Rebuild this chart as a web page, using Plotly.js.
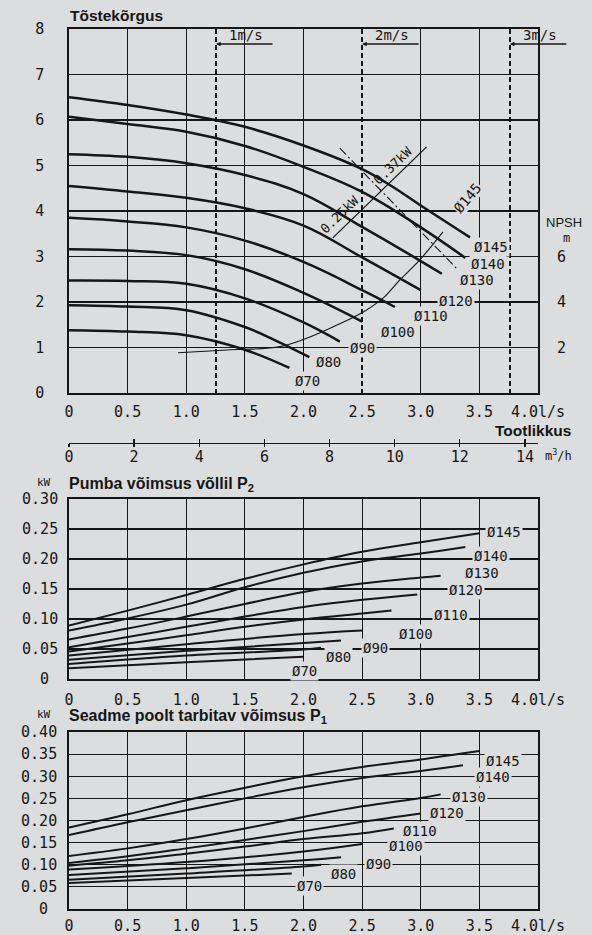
<!DOCTYPE html>
<html><head><meta charset="utf-8">
<script src="https://cdn.plot.ly/plotly-3.0.1.min.js"></script>
<style>html,body{margin:0;padding:0;background:#dcdddf;} #c{width:592px;height:935px;}</style>
</head><body><div id="c"></div>
<script>
// ---------- data ----------
const diameters = ['Ø145','Ø140','Ø130','Ø120','Ø110','Ø100','Ø90','Ø80','Ø70'];
const flowTicks = [0,0.5,1,1.5,2,2.5,3,3.5,4];
const flowTickText = ['0','0.5','1.0','1.5','2.0','2.5','3.0','3.5','4.0l/s'];
const headTicks = [0,1,2,3,4,5,6,7,8];
const npshTicks = [2,4,6];
const m3hTicks = [0,2,4,6,8,10,12,14];
const p2Ticks = [0,0.05,0.10,0.15,0.20,0.25,0.30];
const p2TickText = ['\u00a0\u00a00\u00a0','0.05','0.10','0.15','0.20','0.25','0.30'];
const p1Ticks = [0,0.05,0.10,0.15,0.20,0.25,0.30,0.35,0.40];
const p1TickText = ['\u00a0\u00a00\u00a0','0.05','0.10','0.15','0.20','0.25','0.30','0.35','0.40'];
const velocityQ = [1.254, 2.5, 3.76];
const velocityText = ['1m/s','2m/s','3m/s'];

// head curves H(Q)
const headQ = [
  [0,0.5,1.0,1.5,2.0,2.5,2.75,3.0,3.42],
  [0,0.5,1.0,1.5,2.0,2.5,3.0,3.38],
  [0,0.5,1.0,1.5,2.0,2.5,3.0,3.18],
  [0,0.5,1.0,1.5,2.0,2.5,3.0],
  [0,0.5,1.0,1.5,2.0,2.5,2.78],
  [0,0.5,1.0,1.5,2.0,2.5],
  [0,0.5,1.0,1.5,2.0,2.31],
  [0,0.5,1.0,1.5,1.75,2.05],
  [0,0.5,1.0,1.5,1.88]
];
const headH = [
  [6.5,6.33,6.12,5.85,5.44,4.92,4.55,4.12,3.42],
  [6.07,5.91,5.74,5.43,4.97,4.42,3.64,2.97],
  [5.25,5.19,5.05,4.79,4.37,3.65,2.9,2.62],
  [4.55,4.43,4.29,4.06,3.68,2.98,2.26],
  [3.85,3.77,3.64,3.35,2.88,2.26,1.89],
  [3.16,3.13,3.03,2.72,2.2,1.57],
  [2.47,2.46,2.40,2.08,1.55,1.13],
  [1.93,1.9,1.82,1.45,1.17,0.79],
  [1.38,1.35,1.27,0.95,0.55]
];
// NPSH curve (m)
const npshQ = [0.93,1.35,1.8,2.05,2.25,2.51,2.68,2.82,2.99,3.19];
const npshM = [1.77,1.89,2.04,2.45,2.9,3.56,4.18,4.96,5.84,7.08];
// motor power boundary line and limit line
const powerLineQ = [2.25,3.05];
const powerLineH = [3.41,5.41];
const powerText = ['0.25kW','0.37kW'];
const limitQ = [2.31,3.32];
const limitH = [5.38,2.70];

// shaft power P2 (kW)
const p2Q = [
  [0,0.5,1,1.5,2,2.5,3,3.5],
  [0,0.5,1,1.5,2,2.5,3,3.38],
  [0,0.5,1,1.5,2,2.5,3,3.17],
  [0,0.5,1,1.5,2,2.5,2.97],
  [0,0.5,1,1.5,2,2.5,2.75],
  [0,1,2,2.5],
  [0,1,2,2.32],
  [0,1,2,2.15],
  [0,1,2]
];
const p2P = [
  [0.089,0.114,0.14,0.167,0.191,0.212,0.228,0.243],
  [0.081,0.101,0.124,0.153,0.177,0.196,0.209,0.22],
  [0.066,0.084,0.104,0.125,0.145,0.159,0.169,0.172],
  [0.053,0.07,0.087,0.104,0.12,0.132,0.141],
  [0.046,0.059,0.073,0.087,0.099,0.109,0.114],
  [0.039,0.058,0.075,0.081],
  [0.032,0.047,0.06,0.064],
  [0.025,0.039,0.049,0.052],
  [0.018,0.028,0.037]
];
// input power P1 (kW)
const p1Q = [
  [0,0.5,1,1.5,2,2.5,3,3.5],
  [0,0.5,1,1.5,2,2.5,3,3.36],
  [0,0.5,1,1.5,2,2.5,3,3.17],
  [0,0.5,1,1.5,2,2.5,3],
  [0,0.5,1,1.5,2,2.5,2.77],
  [0,1,2,2.5],
  [0,1,2,2.32],
  [0,1,2,2.15],
  [0,1,1.9]
];
const p1P = [
  [0.184,0.214,0.246,0.274,0.30,0.321,0.338,0.357],
  [0.167,0.196,0.223,0.25,0.275,0.296,0.312,0.325],
  [0.12,0.137,0.158,0.182,0.208,0.232,0.251,0.259],
  [0.104,0.119,0.137,0.156,0.176,0.197,0.216],
  [0.098,0.11,0.125,0.141,0.158,0.171,0.182],
  [0.089,0.106,0.13,0.147],
  [0.077,0.092,0.11,0.117],
  [0.066,0.08,0.096,0.1],
  [0.059,0.07,0.08]
];

// label anchor points (data units)
const headLabelQ = [3.6,3.57,3.48,3.3,3.09,2.81,2.5,2.21,2.03];
const headLabelH = [3.2,2.84,2.48,2.03,1.69,1.34,0.99,0.68,0.26];
const p2LabelQ = [3.71,3.6,3.52,3.39,3.26,2.96,2.61,2.3,2.01];
const p2LabelP = [0.245,0.205,0.176,0.148,0.106,0.075,0.051,0.036,0.014];
const p1LabelQ = [3.7,3.62,3.41,3.22,2.99,2.87,2.64,2.34,2.05];
const p1LabelP = [0.335,0.298,0.252,0.218,0.177,0.142,0.101,0.08,0.051];

// ---------- styling ----------
const BG = '#dcdddf';
const INK = '#161616';
const MONO = 'DejaVu Sans Mono, monospace';
const SANS = 'Liberation Sans, Arial, sans-serif';
const W = 592, H = 935;
const fx = p => p / W, fy = p => 1 - p / H;
const XD = [fx(69), fx(538)];
const domTop = [fy(393), fy(29)];
const domP2 = [fy(679), fy(499)];
const domP1 = [fy(909), fy(732)];
const tickFont = {family: MONO, size: 15, color: INK};

function frameAxis(extra) {
  return Object.assign({
    showline: true, mirror: true, linecolor: INK, linewidth: 1.8,
    ticks: '', zeroline: false, showgrid: true, gridcolor: INK, gridwidth: 1.2,
    tickfont: tickFont, fixedrange: true
  }, extra);
}
function plainAxis(extra) {
  return Object.assign({
    showline: false, ticks: '', zeroline: false, showgrid: false,
    showticklabels: false, fixedrange: true
  }, extra);
}

const traces = [];
const curveLine = w => ({color: INK, width: w, shape: 'spline', smoothing: 1.1});
headQ.forEach((q, i) => traces.push({type: 'scatter', mode: 'lines', x: q, y: headH[i],
  xaxis: 'x', yaxis: 'y', line: curveLine(2.5), hoverinfo: 'skip', showlegend: false}));
traces.push({type: 'scatter', mode: 'lines', x: npshQ, y: npshM, xaxis: 'x', yaxis: 'y2',
  line: {color: INK, width: 1.1, shape: 'spline', smoothing: 1.0}, hoverinfo: 'skip', showlegend: false});
traces.push({type: 'scatter', mode: 'lines', x: powerLineQ, y: powerLineH, xaxis: 'x', yaxis: 'y',
  line: {color: INK, width: 1.3}, hoverinfo: 'skip', showlegend: false});
traces.push({type: 'scatter', mode: 'lines', x: limitQ, y: limitH, xaxis: 'x', yaxis: 'y',
  line: {color: INK, width: 1.1, dash: '9px,3px,2px,3px'}, hoverinfo: 'skip', showlegend: false});
p2Q.forEach((q, i) => traces.push({type: 'scatter', mode: 'lines', x: q, y: p2P[i],
  xaxis: 'x2', yaxis: 'y3', line: curveLine(2.0), hoverinfo: 'skip', showlegend: false}));
p1Q.forEach((q, i) => traces.push({type: 'scatter', mode: 'lines', x: q, y: p1P[i],
  xaxis: 'x3', yaxis: 'y4', line: curveLine(2.0), hoverinfo: 'skip', showlegend: false}));
// helper traces to register overlay axes
['x4','x5','x6','x7'].forEach(ax => traces.push({type: 'scatter', mode: 'lines', x: [null], y: [null],
  xaxis: ax, yaxis: 'y', hoverinfo: 'skip', showlegend: false}));

const gridQ = flowTicks.filter(v => v > 0 && v < 4 && !velocityQ.includes(v));

const annotations = [];
function ann(o) { annotations.push(Object.assign({showarrow: false, font: {family: MONO, size: 14, color: INK}}, o)); }

// titles
ann({xref: 'paper', yref: 'paper', x: fx(68), y: fy(16), xanchor: 'left', yanchor: 'middle',
  text: '<b>Tõstekõrgus</b>', font: {family: SANS, size: 15.5, color: INK}});
ann({xref: 'paper', yref: 'paper', x: fx(573), y: fy(430), xanchor: 'right', yanchor: 'middle',
  text: '<b>Tootlikkus</b>', font: {family: SANS, size: 15.5, color: INK}});
ann({xref: 'paper', yref: 'paper', x: fx(564), y: fy(222), xanchor: 'center', yanchor: 'middle',
  text: 'NPSH', font: {family: SANS, size: 13, color: INK}});
ann({xref: 'paper', yref: 'paper', x: fx(566), y: fy(238), xanchor: 'center', yanchor: 'middle',
  text: 'm', font: {family: MONO, size: 12, color: INK}});
ann({xref: 'paper', yref: 'paper', x: fx(558), y: fy(455), xanchor: 'center', yanchor: 'middle',
  text: 'm<sup>3</sup>/h', font: {family: MONO, size: 12, color: INK}});
ann({xref: 'paper', yref: 'paper', x: fx(44), y: fy(482), xanchor: 'center', yanchor: 'middle',
  text: 'kW', font: {family: MONO, size: 11, color: INK}});
ann({xref: 'paper', yref: 'paper', x: fx(67), y: fy(485), xanchor: 'left', yanchor: 'middle',
  text: '<b>Pumba võimsus võllil P<sub>2</sub></b>', font: {family: SANS, size: 16, color: INK}});
ann({xref: 'paper', yref: 'paper', x: fx(44), y: fy(714), xanchor: 'center', yanchor: 'middle',
  text: 'kW', font: {family: MONO, size: 11, color: INK}});
ann({xref: 'paper', yref: 'paper', x: fx(67), y: fy(716), xanchor: 'left', yanchor: 'middle',
  text: '<b>Seadme poolt tarbitav võimsus P<sub>1</sub></b>', font: {family: SANS, size: 16, color: INK}});

// velocity markers
velocityQ.forEach((q, i) => {
  ann({xref: 'x', yref: 'y', x: q, y: 7.67, text: '', showarrow: true, ax: 58, ay: 0,
    arrowhead: 2, arrowsize: 0.7, arrowwidth: 1.3, arrowcolor: INK, standoff: 0});
  ann({xref: 'x', yref: 'y', x: q, y: 7.67, xanchor: 'left', yanchor: 'bottom', xshift: 11, yshift: -1,
    text: velocityText[i], font: {family: MONO, size: 14, color: INK}});
});

// curve labels
diameters.forEach((d, i) => {
  ann({xref: 'x', yref: 'y', x: headLabelQ[i], y: headLabelH[i], text: d, bgcolor: BG, borderpad: 1});
  ann({xref: 'x2', yref: 'y3', x: p2LabelQ[i], y: p2LabelP[i], text: d, bgcolor: BG, borderpad: 1});
  ann({xref: 'x3', yref: 'y4', x: p1LabelQ[i], y: p1LabelP[i], text: d, bgcolor: BG, borderpad: 1});
});
ann({xref: 'x', yref: 'y', x: 3.4, y: 4.28, text: diameters[0], textangle: -50, bgcolor: BG, borderpad: 0});
ann({xref: 'x', yref: 'y', x: 2.31, y: 3.92, text: powerText[0], textangle: -44, font: {family: MONO, size: 13, color: INK}});
ann({xref: 'x', yref: 'y', x: 2.76, y: 5.0, text: powerText[1], textangle: -44, font: {family: MONO, size: 13, color: INK}});

const layout = {
  width: W, height: H,
  margin: {l: 0, r: 0, t: 0, b: 0},
  paper_bgcolor: BG, plot_bgcolor: BG,
  font: {family: MONO, color: INK},
  showlegend: false,
  xaxis: frameAxis({domain: XD, range: [0, 4], tickvals: flowTicks, ticktext: flowTickText,
    showgrid: false, anchor: 'y', ticklabelstandoff: 4}),
  xaxis5: plainAxis({overlaying: 'x', range: [0, 4], tickvals: gridQ, showgrid: true,
    gridcolor: INK, gridwidth: 1.2, anchor: 'y'}),
  xaxis6: plainAxis({overlaying: 'x', range: [0, 4], tickvals: velocityQ, showgrid: true,
    gridcolor: INK, gridwidth: 1.5, griddash: '5px,3px', anchor: 'y'}),
  xaxis4: {overlaying: 'x', anchor: 'free', position: fy(443), side: 'bottom', range: [0, 14.4],
    tickvals: m3hTicks, showline: true, linecolor: INK, linewidth: 1.3, ticks: 'inside', ticklen: 4,
    tickwidth: 1.3, tickcolor: INK, showgrid: false, zeroline: false, tickfont: tickFont, fixedrange: true},
  xaxis7: {overlaying: 'x', anchor: 'free', position: fy(443), side: 'bottom', range: [0, 14.4],
    tickvals: m3hTicks, showline: false, ticks: 'outside', ticklen: 3, tickwidth: 1.3, tickcolor: INK,
    showticklabels: false, showgrid: false, zeroline: false, fixedrange: true},
  yaxis: frameAxis({domain: domTop, range: [0, 8], tickvals: headTicks, anchor: 'x', ticklabelstandoff: 20}),
  yaxis2: plainAxis({overlaying: 'y', side: 'right', range: [0, 16], tickvals: npshTicks,
    showticklabels: true, tickfont: tickFont, anchor: 'x', ticklabelstandoff: 18}),
  xaxis2: frameAxis({domain: XD, range: [0, 4], tickvals: flowTicks, ticktext: flowTickText,
    anchor: 'y3', ticklabelstandoff: 6}),
  yaxis3: frameAxis({domain: domP2, range: [0, 0.3], tickvals: p2Ticks, ticktext: p2TickText,
    anchor: 'x2', ticklabelstandoff: 6}),
  xaxis3: frameAxis({domain: XD, range: [0, 4], tickvals: flowTicks, ticktext: flowTickText,
    anchor: 'y4', ticklabelstandoff: 2}),
  yaxis4: frameAxis({domain: domP1, range: [0, 0.4], tickvals: p1Ticks, ticktext: p1TickText,
    anchor: 'x3', ticklabelstandoff: 7}),
  annotations: annotations
};

Plotly.newPlot('c', traces, layout, {staticPlot: true, displayModeBar: false});
</script>
</body></html>
